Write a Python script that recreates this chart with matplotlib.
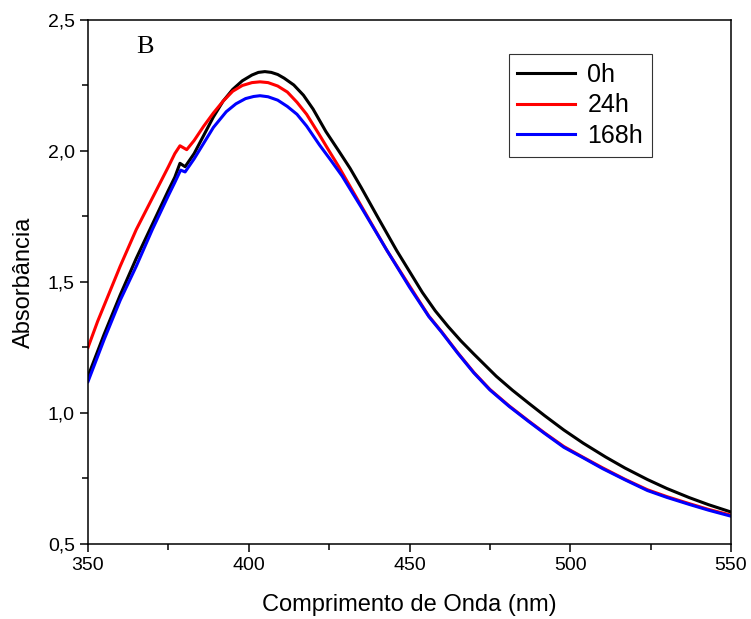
import numpy as np
import matplotlib.pyplot as plt
from matplotlib.ticker import MultipleLocator, FuncFormatter

# wavelength (nm) and absorbance
wl_0h = [350, 355, 360, 365, 370, 375, 377, 378.6, 380.2, 383, 386, 389, 392, 395, 398, 401, 403, 405,
         407, 409, 411, 414, 417, 420, 424, 428, 431.5, 435, 440, 446, 450, 454, 458, 462, 466, 470,
         477, 482, 487, 492, 498, 504, 511, 517, 524, 530, 537, 543, 550]
abs_0h = [1.14, 1.30, 1.45, 1.59, 1.72, 1.85, 1.90, 1.953, 1.94, 1.99, 2.06, 2.13, 2.19, 2.235, 2.268, 2.29, 2.30, 2.303,
          2.30, 2.292, 2.278, 2.252, 2.213, 2.16, 2.074, 2.00, 1.934, 1.86, 1.75, 1.62, 1.54, 1.46, 1.39, 1.33, 1.275, 1.225,
          1.14, 1.087, 1.038, 0.99, 0.935, 0.885, 0.832, 0.79, 0.746, 0.712, 0.677, 0.65, 0.622]

wl_24h = [350, 353, 356, 360, 365, 370, 375, 377, 378.6, 380.7, 383, 386, 389, 392, 395, 398, 401, 403.5,
          406, 409, 412, 415, 418, 422, 425, 428, 435, 443, 450, 456, 460, 465, 470, 475, 481, 487, 492,
          498, 504, 510, 517, 524, 530, 537, 543, 550]
abs_24h = [1.25, 1.35, 1.44, 1.56, 1.70, 1.82, 1.94, 1.99, 2.02, 2.005, 2.04, 2.095, 2.145, 2.19, 2.228, 2.25, 2.261, 2.264,
           2.261, 2.248, 2.225, 2.186, 2.14, 2.061, 2.00, 1.94, 1.79, 1.62, 1.485, 1.37, 1.31, 1.23, 1.155, 1.09, 1.027, 0.97, 0.924,
           0.872, 0.831, 0.791, 0.747, 0.707, 0.681, 0.654, 0.632, 0.61]

wl_168h = [350, 355, 360, 365, 370, 375, 377, 378.8, 380.2, 383, 386, 389, 393, 396, 399, 401.5, 403.5,
           406, 409, 412, 415, 418, 422, 425.5, 429, 435, 443, 450, 456, 460, 465, 470, 475, 481, 487, 492,
           498, 504, 510, 517, 524, 530, 537, 543, 550]
abs_168h = [1.12, 1.28, 1.43, 1.56, 1.70, 1.83, 1.88, 1.927, 1.92, 1.97, 2.03, 2.09, 2.15, 2.18, 2.20, 2.208, 2.211,
            2.207, 2.194, 2.17, 2.14, 2.095, 2.023, 1.965, 1.905, 1.785, 1.62, 1.48, 1.368, 1.308, 1.228, 1.153, 1.088, 1.025, 0.968, 0.922,
            0.869, 0.829, 0.788, 0.745, 0.704, 0.678, 0.651, 0.629, 0.606]

plt.rcParams['font.family'] = ['Liberation Sans', 'DejaVu Sans']

fig = plt.figure(figsize=(7.51, 6.19), dpi=100)
ax = fig.add_axes([0.1172, 0.1212, 0.8562, 0.8465])

ax.plot(wl_0h, abs_0h, color='black', lw=2.2, label='0h')
ax.plot(wl_24h, abs_24h, color='red', lw=2.2, label='24h')
ax.plot(wl_168h, abs_168h, color='blue', lw=2.2, label='168h')

ax.set_xlim(350, 550)
ax.set_ylim(0.5, 2.5)
ax.xaxis.set_major_locator(MultipleLocator(50))
ax.xaxis.set_minor_locator(MultipleLocator(25))
ax.yaxis.set_major_locator(MultipleLocator(0.5))
ax.yaxis.set_minor_locator(MultipleLocator(0.25))
ax.yaxis.set_major_formatter(FuncFormatter(lambda v, p: ('%.1f' % v).replace('.', ',')))
ax.tick_params(which='major', direction='out', length=6, width=1.1, labelsize=14)
ax.tick_params(which='minor', direction='out', length=4, width=1.1)
for s in ax.spines.values():
    s.set_linewidth(1.1)

ax.set_xlabel('Comprimento de Onda (nm)', fontsize=17, labelpad=14)
ax.set_ylabel('Absorbância', fontsize=17, labelpad=9)

ax.text(0.089, 0.948, 'B', transform=ax.transAxes, fontsize=19,
        family='Liberation Serif', va='center', ha='center')

leg = ax.legend(loc='upper right', bbox_to_anchor=(0.877, 0.935), fontsize=18,
                handlelength=2.3, frameon=True, fancybox=False, edgecolor='black',
                borderpad=0.35, labelspacing=0.26, handletextpad=0.5, borderaxespad=0)
leg.get_frame().set_linewidth(0.8)

plt.savefig('out.png', dpi=100)
